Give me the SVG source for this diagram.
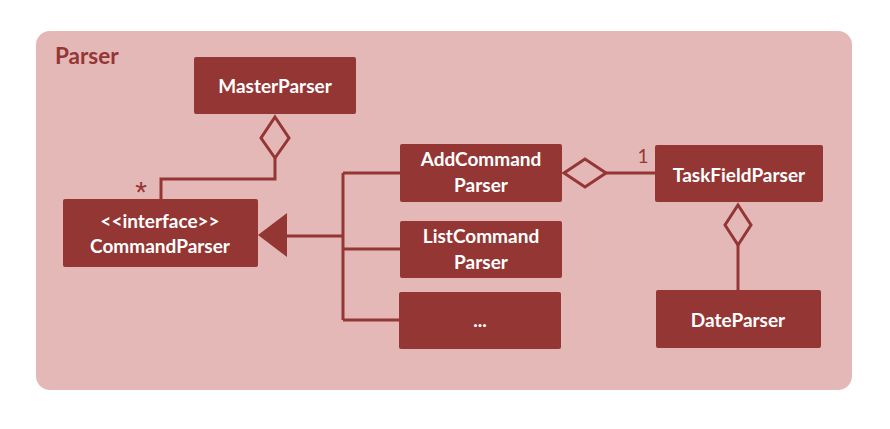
<svg xmlns="http://www.w3.org/2000/svg" width="890" height="429" viewBox="0 0 890 429">
<style>
.box{fill:#943634}
.t{fill:#ffffff;font-family:Lato,"Open Sans","Liberation Sans",sans-serif;font-weight:bold;font-size:19px;text-anchor:middle}
.ln{fill:none;stroke:#943634;stroke-width:3}
.lbl{fill:#943634;font-family:Lato,"Liberation Sans",sans-serif;font-size:19px}
</style>
<rect x="0" y="0" width="890" height="429" fill="#ffffff"/>
<g id="parser">
<rect x="36" y="31" width="816" height="359" rx="14" fill="#e4b8b7"/>
<text x="55" y="64" fill="#943634" font-family="Lato,'Liberation Sans',sans-serif" font-weight="bold" font-size="22.5">Parser</text>
</g>
<g id="connectors">
<polygon class="ln" points="275,117 289,138 275,158 261,138"/>
<polyline class="ln" points="275,158 275,179 161,179 161,199"/>
<text x="141" y="202" fill="#943634" font-family="'Liberation Sans',sans-serif" font-size="30" text-anchor="middle">*</text>
<polygon points="258,235 287,213 287,257" fill="#943634"/>
<line class="ln" x1="287" y1="236" x2="343" y2="236"/>
<line class="ln" x1="343" y1="173" x2="343" y2="320"/>
<line class="ln" x1="343" y1="173" x2="400" y2="173"/>
<line class="ln" x1="343" y1="249" x2="400" y2="249"/>
<line class="ln" x1="343" y1="320" x2="399" y2="320"/>
<polygon class="ln" points="564,173 585,159 606,173 585,187"/>
<line class="ln" x1="606" y1="173" x2="655" y2="173"/>
<text class="lbl" x="643" y="163" text-anchor="middle">1</text>
<polygon class="ln" points="738,205 751,225 738,245 725,225"/>
<line class="ln" x1="738" y1="245" x2="738" y2="290"/>
</g>
<g id="MasterParser"><rect class="box" x="194" y="57" width="162" height="57" rx="2"/><text class="t" x="275" y="93">MasterParser</text></g>
<g id="CommandParser"><rect class="box" x="63" y="199" width="195" height="68" rx="2"/><text class="t" x="160" y="228">&lt;&lt;interface&gt;&gt;</text><text class="t" x="160" y="253">CommandParser</text></g>
<g id="AddCommandParser"><rect class="box" x="400" y="144" width="162" height="58" rx="2"/><text class="t" x="481" y="166">AddCommand</text><text class="t" x="481" y="192">Parser</text></g>
<g id="ListCommandParser"><rect class="box" x="400" y="221" width="162" height="57" rx="2"/><text class="t" x="481" y="243">ListCommand</text><text class="t" x="481" y="269">Parser</text></g>
<g id="More"><rect class="box" x="399" y="292" width="162" height="57" rx="2"/><text class="t" x="480" y="327">...</text></g>
<g id="TaskFieldParser"><rect class="box" x="655" y="145" width="168" height="57" rx="2"/><text class="t" x="739" y="182">TaskFieldParser</text></g>
<g id="DateParser"><rect class="box" x="656" y="290" width="165" height="58" rx="2"/><text class="t" x="738" y="327">DateParser</text></g>
</svg>
